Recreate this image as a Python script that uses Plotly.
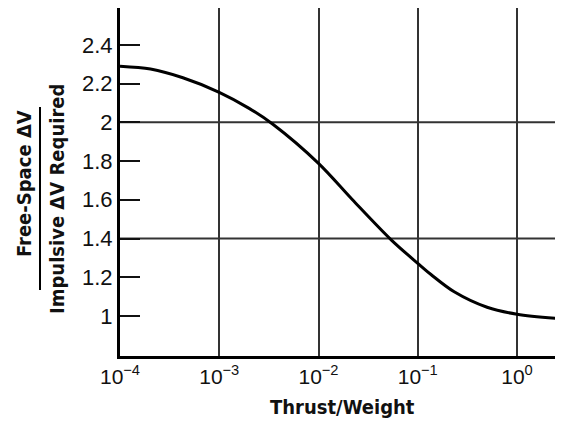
import plotly.graph_objects as go

# Data
thrust_weight = [1e-4, 2.03e-4, 4.3e-4, 1e-3, 2.0e-3, 3.47e-3, 1e-2,
                 2.2e-2, 5.43e-2, 1e-1, 1.36e-1, 2.33e-1, 5.0e-1, 1.0, 2.94]
dv_ratio = [2.29, 2.275, 2.23, 2.155, 2.072, 1.99, 1.788,
            1.60, 1.392, 1.272, 1.214, 1.125, 1.045, 1.009, 0.985]

x_tick_vals = [1e-4, 1e-3, 1e-2, 1e-1, 1e0]
x_tick_text = ["10<sup>−4</sup>", "10<sup>−3</sup>", "10<sup>−2</sup>",
               "10<sup>−1</sup>", "10<sup>0</sup>"]
y_tick_vals = [1, 1.2, 1.4, 1.6, 1.8, 2, 2.2, 2.4]
y_tick_text = ["1", "1.2", "1.4", "1.6", "1.8", "2", "2.2", "2.4"]
y_grid_vals = [1.4, 2.0]

# The page body has an 8px margin on every side; size the figure so the page
# is exactly the window size.
BODY = 8
W, H = 563 - 2 * BODY, 427 - 2 * BODY
ML, MR, MT, MB = 120 - BODY, 0, 0, 427 - BODY - 356
PW, PH = W - ML - MR, H - MT - MB

def px_x(p):
    return (p - BODY - ML) / PW

def px_y(p):
    return (H - MB - (p - BODY)) / PH

tick_font = dict(family="Liberation Sans, Arial, sans-serif", size=22, color="#111")
xtick_font = dict(family="Liberation Sans, Arial, sans-serif", size=21, color="#111")
title_font = dict(family="DejaVu Sans Condensed, Liberation Sans, Arial, sans-serif",
                  size=20, color="#111", weight="bold")

# x range: 99.25 px per decade from the left edge to the plot's right edge
x_hi = -4 + PW / 99.25
# y range: 193.7 px per unit, value 1 at y=316 px in the reference
y_lo = 1 - (356 - 316) / 193.7
y_hi = y_lo + PH / 193.7

fig = go.Figure()
fig.add_trace(go.Scatter(x=thrust_weight, y=dv_ratio, mode="lines",
                         line=dict(color="#000", width=3, shape="spline", smoothing=0.9),
                         hoverinfo="skip", showlegend=False))

for gv in y_grid_vals:
    fig.add_shape(type="line", xref="paper", yref="y", x0=0, x1=1, y0=gv, y1=gv,
                  line=dict(color="#333", width=2), layer="below")

fig.update_layout(
    width=W, height=H,
    margin=dict(l=ML, r=MR, t=MT, b=MB, autoexpand=False),
    paper_bgcolor="white", plot_bgcolor="white",
    showlegend=False,
    xaxis=dict(type="log", range=[-4, x_hi], tickvals=x_tick_vals, ticktext=x_tick_text,
               showgrid=True, gridcolor="#333", gridwidth=2,
               showline=True, linecolor="#000", linewidth=3, mirror=True,
               ticks="", tickfont=xtick_font, zeroline=False, automargin=False),
    yaxis=dict(range=[y_lo, y_hi], tickvals=y_tick_vals, ticktext=y_tick_text,
               showgrid=False, zeroline=False, automargin=False,
               showline=True, linecolor="#000", linewidth=3, mirror=False,
               ticks="inside", ticklen=20, tickwidth=2, tickcolor="#111",
               tickfont=tick_font),
)

fig.add_annotation(text="<b>Thrust/Weight</b>", xref="paper", yref="paper",
                   x=px_x(342), y=px_y(407), showarrow=False, borderpad=0,
                   font=title_font, xanchor="center", yanchor="middle")
fig.add_annotation(text="<b>Free-Space ΔV</b>", xref="paper", yref="paper",
                   x=px_x(24), y=px_y(184), showarrow=False, textangle=-90,
                   font=title_font, xanchor="center", yanchor="middle")
fig.add_annotation(text="<b>Impulsive ΔV Required</b>", xref="paper", yref="paper",
                   x=px_x(57), y=px_y(199), showarrow=False, textangle=-90,
                   font=title_font, xanchor="center", yanchor="middle")
fig.add_shape(type="line", xref="paper", yref="paper",
              x0=px_x(40), x1=px_x(40), y0=px_y(107), y1=px_y(290),
              line=dict(color="#000", width=2))

fig.write_html("out.html")
